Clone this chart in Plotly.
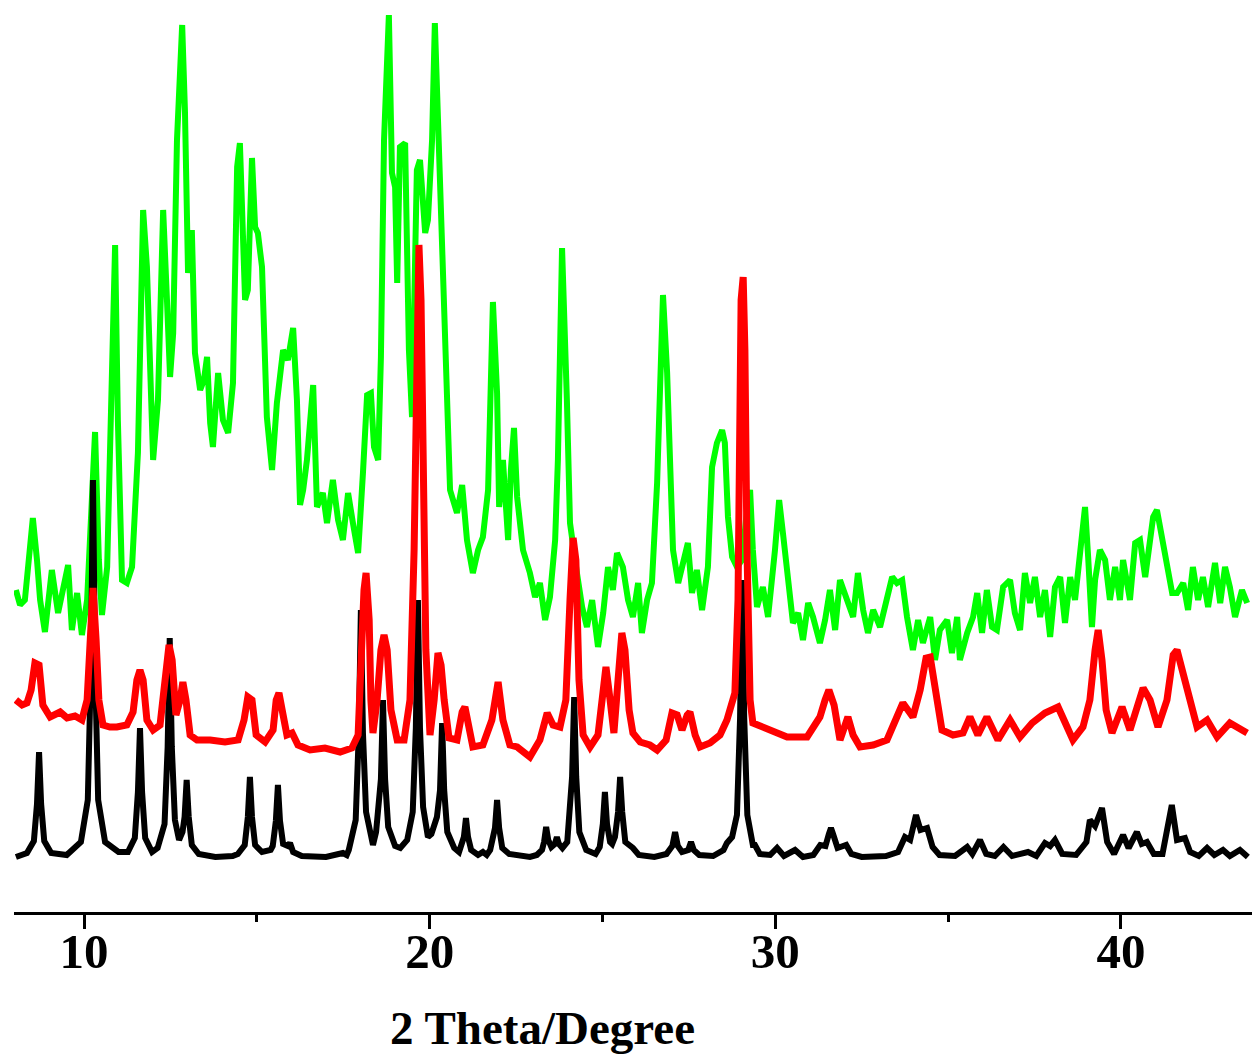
import plotly.graph_objects as go

# ---- data (2theta in degrees, intensity in arbitrary units) ----
green_pattern = [
(8.03,322),(8.15,307),(8.29,312),(8.41,352),(8.52,394),(8.64,352),(8.73,312),(8.87,280),(9.07,342),(9.25,299),
(9.39,322),(9.54,347),(9.65,282),(9.80,319),(9.94,277),(10.09,312),(10.20,392),(10.32,480),(10.43,352),(10.52,297),
(10.67,345),(10.78,492),(10.90,667),(10.98,492),(11.10,332),(11.24,329),(11.39,345),(11.56,459),(11.71,702),(11.82,645),
(11.91,532),(12.00,452),(12.14,512),(12.29,702),(12.40,612),(12.49,535),(12.58,579),(12.69,772),(12.84,887),(12.92,802),
(13.01,639),(13.12,682),(13.21,559),(13.36,522),(13.47,532),(13.56,555),(13.65,489),(13.73,465),(13.88,539),(14.02,492),
(14.17,479),(14.31,529),(14.43,745),(14.51,769),(14.66,612),(14.74,622),(14.86,754),(14.95,685),(15.03,679),(15.15,645),
(15.29,495),(15.44,442),(15.58,509),(15.76,562),(15.90,552),(16.05,584),(16.16,512),(16.25,407),(16.34,422),(16.45,452),
(16.63,527),(16.74,405),(16.91,419),(17.03,389),(17.20,432),(17.35,392),(17.49,372),(17.64,419),(17.78,389),(17.93,359),
(18.07,439),(18.19,517),(18.30,519),(18.39,465),(18.51,452),(18.59,555),(18.68,772),(18.82,897),(18.91,739),(19.00,725),
(19.06,629),(19.14,765),(19.29,769),(19.34,679),(19.40,562),(19.49,495),(19.63,742),(19.72,752),(19.87,679),(19.95,692),
(20.07,772),(20.15,889),(20.24,795),(20.33,695),(20.39,595),(20.50,495),(20.59,422),(20.79,399),(20.94,427),(21.08,372),
(21.25,339),(21.40,362),(21.54,375),(21.69,422),(21.83,610),(21.95,519),(22.01,405),(22.12,452),(22.27,372),(22.35,442),
(22.44,484),(22.53,415),(22.70,362),(22.90,339),(23.05,315),(23.19,329),(23.34,292),(23.48,315),(23.63,372),(23.71,452),
(23.83,664),(23.97,512),(24.06,389),(24.26,339),(24.41,305),(24.55,285),(24.70,312),(24.87,265),(25.02,299),(25.16,345),
(25.30,322),(25.42,359),(25.59,345),(25.74,312),(25.88,295),(26.03,329),(26.14,279),(26.29,312),(26.43,329),(26.58,429),
(26.66,502),(26.75,617),(26.87,539),(26.95,462),(27.04,362),(27.19,329),(27.33,352),(27.47,369),(27.59,319),(27.73,342),
(27.88,302),(28.05,345),(28.17,445),(28.31,469),(28.46,482),(28.54,469),(28.63,395),(28.75,355),(28.89,345),(29.04,352),
(29.15,392),(29.27,422),(29.35,362),(29.47,305),(29.64,325),(29.79,295),(29.99,362),(30.11,412),(30.22,379),(30.37,329),
(30.51,289),(30.66,299),(30.80,272),(30.95,309),(31.09,295),(31.29,269),(31.44,292),(31.58,322),(31.73,282),(31.87,332),
(32.07,312),(32.25,295),(32.39,339),(32.54,302),(32.68,279),(32.83,302),(33.03,285),(33.23,312),(33.38,335),(33.52,329),
(33.67,332),(33.81,295),(33.98,262),(34.13,292),(34.27,269),(34.48,295),(34.62,252),(34.76,282),(34.97,292),(35.11,259),
(35.26,295),(35.34,252),(35.55,279),(35.72,295),(35.84,319),(35.98,279),(36.12,322),(36.27,285),(36.41,282),(36.59,325),
(36.79,332),(36.93,299),(37.08,282),(37.22,339),(37.37,309),(37.51,335),(37.66,295),(37.80,322),(37.95,275),(38.09,325),
(38.24,335),(38.38,289),(38.53,335),(38.67,312),(38.76,342),(38.87,372),(38.96,405),(39.05,355),(39.16,285),(39.25,332),
(39.39,362),(39.54,352),(39.68,312),(39.83,345),(39.97,312),(40.06,352),(40.26,312),(40.41,369),(40.55,372),(40.70,335),
(40.84,372),(40.93,395),(41.04,402),(41.19,372),(41.33,345),(41.48,319),(41.62,319),(41.80,329),(41.94,302),(42.08,345),
(42.23,312),(42.37,335),(42.52,305),(42.72,349),(42.87,309),(43.01,345),(43.15,325),(43.30,295),(43.50,322),(43.65,309),
]

red_pattern = [
(8.03,212),(8.21,207),(8.35,209),(8.47,222),(8.58,249),(8.70,247),(8.81,207),(9.02,195),(9.31,200),(9.51,194),
(9.74,196),(9.94,192),(10.09,212),(10.17,272),(10.26,324),(10.35,272),(10.43,212),(10.55,187),(10.75,185),(10.95,185),
(11.24,187),(11.42,200),(11.53,232),(11.62,242),(11.71,232),(11.82,192),(12.00,182),(12.20,187),(12.31,222),(12.46,267),
(12.55,252),(12.66,197),(12.78,212),(12.86,230),(12.95,212),(13.07,177),(13.27,172),(13.65,172),(14.08,170),(14.46,172),
(14.63,192),(14.74,215),(14.86,212),(14.98,177),(15.24,170),(15.47,182),(15.56,212),(15.64,219),(15.76,197),(15.87,177),
(16.02,179),(16.19,167),(16.54,162),(16.97,164),(17.41,160),(17.75,164),(17.93,177),(18.01,262),(18.10,322),(18.16,339),
(18.25,292),(18.30,212),(18.36,179),(18.48,212),(18.59,262),(18.68,277),(18.77,262),(18.88,202),(19.06,172),(19.26,172),
(19.43,212),(19.55,362),(19.63,562),(19.69,667),(19.75,612),(19.81,462),(19.89,262),(20.01,177),(20.13,212),(20.24,259),
(20.33,247),(20.42,212),(20.56,174),(20.79,172),(20.94,200),(21.02,205),(21.14,182),(21.25,165),(21.54,167),(21.80,192),
(21.98,230),(22.12,192),(22.32,167),(22.53,165),(22.90,155),(23.19,172),(23.40,199),(23.57,187),(23.77,185),(23.94,212),
(24.06,312),(24.15,374),(24.23,352),(24.32,232),(24.44,177),(24.64,165),(24.87,177),(25.02,222),(25.10,245),(25.22,212),
(25.33,179),(25.45,232),(25.56,279),(25.65,262),(25.77,202),(25.88,179),(26.09,170),(26.37,167),(26.58,162),(26.84,172),
(27.01,199),(27.16,197),(27.30,182),(27.45,197),(27.53,200),(27.68,177),(27.82,165),(28.11,169),(28.40,177),(28.60,192),
(28.83,219),(28.92,312),(29.01,612),(29.07,635),(29.12,562),(29.18,362),(29.27,212),(29.35,189),(29.64,185),(29.99,179),
(30.34,175),(30.92,175),(31.29,195),(31.44,212),(31.55,222),(31.70,207),(31.87,172),(32.10,195),(32.25,177),(32.45,165),
(32.83,167),(33.23,172),(33.52,197),(33.69,209),(33.98,195),(34.19,222),(34.36,254),(34.48,255),(34.68,212),(34.82,182),
(35.14,177),(35.43,179),(35.63,195),(35.86,177),(36.12,195),(36.44,172),(36.79,192),(37.08,175),(37.43,189),(37.80,199),
(38.18,205),(38.61,172),(38.90,185),(39.10,212),(39.25,262),(39.34,282),(39.45,252),(39.57,202),(39.74,179),(40.03,205),
(40.26,182),(40.64,224),(40.84,212),(41.07,185),(41.33,212),(41.51,257),(41.62,262),(41.77,242),(41.91,219),(42.20,185),
(42.49,192),(42.78,175),(43.15,189),(43.65,179),
]

black_pattern = [
(8.03,55),(8.35,59),(8.55,71),(8.64,108),(8.70,160),(8.76,108),(8.85,71),(9.05,59),(9.50,57),
(9.91,70),(10.11,112),(10.20,244),(10.26,432),(10.32,244),(10.41,112),(10.61,70),(11.00,60),
(11.27,60),(11.47,74),(11.56,120),(11.62,184),(11.68,120),(11.77,74),(11.97,60),
(12.13,64),(12.33,88),(12.42,165),(12.48,274),(12.54,165),(12.63,92),(12.75,72),(12.85,80),(12.91,95),(12.97,132),
(13.03,95),(13.12,67),(13.32,58),(13.80,55),(14.30,56),
(14.45,58),(14.65,67),(14.74,95),(14.80,135),(14.86,95),(14.95,67),(15.15,60),
(15.40,62),(15.46,66),(15.55,91),(15.61,127),(15.67,91),(15.76,68),(15.90,66),(15.96,69),(16.05,60),(16.30,56),
(17.00,55),(17.35,57),(17.49,59),(17.60,57),
(17.66,62),(17.86,92),(17.95,179),(18.01,302),(18.07,179),(18.16,100),(18.28,75),(18.36,67),
(18.45,80),(18.59,133),(18.65,212),(18.71,133),(18.80,85),(19.00,66),(19.15,64),
(19.35,72),(19.51,100),(19.60,184),(19.66,312),(19.72,184),(19.81,105),(19.95,75),(20.05,78),
(20.21,95),(20.30,122),(20.36,189),(20.42,122),(20.51,80),(20.71,64),
(20.85,60),(20.99,75),(21.05,94),(21.11,75),(21.20,62),(21.40,57),(21.54,60),(21.65,57),
(21.75,62),(21.89,84),(21.95,112),(22.01,84),(22.10,64),(22.30,58),(22.60,56),(22.90,55),(23.10,57),
(23.25,62),(23.31,70),(23.37,85),(23.43,72),(23.52,65),(23.62,68),(23.68,75),(23.74,68),(23.84,64),
(23.98,70),(24.12,135),(24.18,215),(24.24,135),(24.33,80),(24.53,62),(24.80,58),
(24.92,65),(25.01,88),(25.07,120),(25.13,88),(25.22,70),(25.28,68),(25.36,75),(25.45,100),(25.51,135),(25.57,100),
(25.66,70),(25.88,64),(26.05,57),(26.50,55),
(26.85,58),(27.02,66),(27.10,80),(27.18,66),(27.30,60),(27.48,62),(27.56,70),(27.64,62),(27.80,57),
(28.20,56),(28.50,62),(28.60,69),(28.75,75),
(28.89,97),(28.98,194),(29.04,332),(29.10,194),(29.19,97),(29.35,67),(29.41,67),(29.55,58),
(29.85,57),(30.05,64),(30.25,56),(30.57,62),(30.80,55),(31.10,57),
(31.30,67),(31.45,66),(31.55,78),(31.61,84),(31.67,78),(31.80,64),(32.05,67),(32.20,58),(32.50,55),
(33.20,56),(33.55,60),(33.75,75),(33.90,72),(34.07,97),(34.20,82),(34.39,84),(34.55,65),(34.75,57),
(35.20,56),(35.55,65),(35.70,58),(35.92,72),(36.10,58),(36.35,56),(36.60,65),(36.85,56),(37.31,60),(37.55,56),
(37.80,69),(37.95,66),(38.09,72),(38.30,58),(38.70,57),
(39.00,70),(39.10,92),(39.25,86),(39.45,104),(39.60,70),(39.80,58),
(40.06,77),(40.22,64),(40.46,80),(40.60,68),(40.75,70),(40.95,58),(41.20,58),
(41.47,107),(41.62,72),(41.85,74),(42.00,60),(42.25,56),(42.49,64),(42.70,57),(42.95,62),(43.15,56),(43.44,62),(43.67,55),
]

x_ticks = [10, 20, 30, 40]
x_title = "2 Theta/Degree"

# ---- figure ----
def split(pairs):
    return [p[0] for p in pairs], [p[1] for p in pairs]

fig = go.Figure()
gx, gy = split(green_pattern)
bx, by = split(black_pattern)
rx, ry = split(red_pattern)

fig.add_trace(go.Scatter(x=gx, y=gy, mode="lines",
                         line=dict(color="#00FF00", width=6), showlegend=False))
fig.add_trace(go.Scatter(x=bx, y=by, mode="lines",
                         line=dict(color="#000000", width=6), showlegend=False))
fig.add_trace(go.Scatter(x=rx, y=ry, mode="lines",
                         line=dict(color="#FF0000", width=7), showlegend=False))

serif = "Liberation Serif, Times New Roman, serif"

fig.update_layout(
    width=1252, height=1057,
    margin=dict(l=14, r=0, t=0, b=145),
    paper_bgcolor="white", plot_bgcolor="white",
    xaxis=dict(
        range=[7.975, 43.79],
        tickvals=x_ticks,
        ticktext=[str(v) for v in x_ticks],
        ticks="outside", ticklen=14, tickwidth=3, tickcolor="black",
        ticklabelstandoff=-20,
        showline=True, linecolor="black", linewidth=3,
        showgrid=False, zeroline=False,
        tickfont=dict(family=serif, size=49, color="black", weight="bold"),
        minor=dict(tick0=5, dtick=10, ticks="outside", ticklen=7, tickwidth=3,
                   tickcolor="black", showgrid=False),
    ),
    yaxis=dict(range=[0, 912], visible=False, showgrid=False, zeroline=False),
    annotations=[dict(
        text="<b>" + x_title + "</b>", xref="paper", yref="paper",
        x=0.4265, y=-0.1272, xanchor="center", yanchor="middle", showarrow=False,
        font=dict(family=serif, size=47, color="black"),
    )],
)

fig.write_html("out.html")
